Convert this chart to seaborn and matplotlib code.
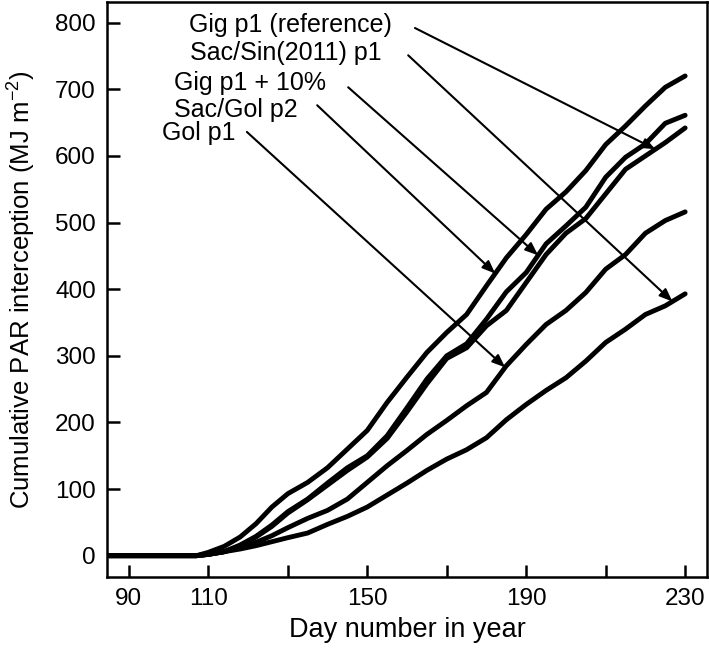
import numpy as np
import pandas as pd
import matplotlib
matplotlib.use("Agg")
import matplotlib.pyplot as plt
import seaborn as sns

# ---- data ----
days = [85, 107, 110, 114, 118, 122, 126, 130, 135, 140, 145, 150, 155, 160,
        165, 170, 175, 180, 185, 190, 195, 200, 205, 210, 215, 220, 225, 230]
sac_gol_p2 = [0, 0, 5, 14, 28, 48, 73, 93, 110, 132, 160, 188, 230, 268,
              305, 335, 362, 405, 447, 482, 520, 546, 578, 617, 645, 675, 703, 720]
gig_p1_10 = [0, 0, 2, 6, 16, 29, 46, 66, 85, 109, 132, 150, 180, 222,
             265, 300, 318, 355, 396, 425, 468, 495, 523, 568, 598, 618, 649, 661]
gig_p1_ref = [0, 0, 2, 6, 15, 28, 44, 64, 84, 106, 128, 148, 176, 216,
              258, 296, 312, 345, 368, 410, 452, 484, 506, 543, 580, 600, 620, 642]
gol_p1 = [0, 0, 2, 6, 12, 20, 30, 42, 56, 68, 85, 110, 135, 158,
          182, 203, 225, 245, 285, 317, 347, 368, 395, 430, 452, 484, 503, 516]
sac_sin_p1 = [0, 0, 2, 6, 10, 15, 21, 27, 34, 47, 59, 73, 91, 109,
              128, 145, 159, 177, 204, 227, 248, 267, 292, 320, 340, 362, 375, 393]

series_names = ["Gig p1 (reference)", "Sac/Sin(2011) p1", "Gig p1 + 10%",
                "Sac/Gol p2", "Gol p1"]
series_values = [gig_p1_ref, sac_sin_p1, gig_p1_10, sac_gol_p2, gol_p1]
# day on each curve where its label arrow points
arrow_days = [222.5, 226.8, 193.0, 182.2, 184.7]

x_ticks = [90, 110, 130, 150, 170, 190, 210, 230]
x_tick_labels = ["90", "110", "", "150", "", "190", "", "230"]
y_ticks = [0, 100, 200, 300, 400, 500, 600, 700, 800]

# ---- layout constants ----
label_pos = [(105.1, 796), (105.4, 754), (101.3, 709), (101.3, 669), (98.3, 634)]
arrow_start = [(162.0, 792), (160.3, 751), (145.2, 703), (137.4, 676), (119.7, 636)]

sns.set_theme(style="ticks")
plt.rcParams["font.family"] = ["Liberation Sans", "DejaVu Sans"]
plt.rcParams["mathtext.fontset"] = "custom"
plt.rcParams["mathtext.rm"] = "Liberation Sans"
plt.rcParams["mathtext.it"] = "Liberation Sans:italic"
plt.rcParams["axes.unicode_minus"] = True
plt.rcParams["text.color"] = "black"
plt.rcParams["axes.labelcolor"] = "black"
plt.rcParams["xtick.color"] = "black"
plt.rcParams["ytick.color"] = "black"

rows = []
for name, vals in zip(series_names, series_values):
    for d, v in zip(days, vals):
        rows.append({"day": d, "value": v, "series": name})
df = pd.DataFrame(rows)

fig = plt.figure(figsize=(7.09, 6.5), dpi=100)
ax = fig.add_axes([107 / 709, 1 - 577 / 650, 600 / 709, 575 / 650])

sns.lineplot(data=df, x="day", y="value", hue="series", units="series",
             estimator=None, sort=True, palette=["black"] * 5, legend=False,
             linewidth=3.5, ax=ax, zorder=3)

for name, vals, ad, lp, st in zip(series_names, series_values, arrow_days,
                                  label_pos, arrow_start):
    ax.text(lp[0], lp[1], name, ha="left", va="center", fontsize=18,
            color="black")
    tip = (ad, float(np.interp(ad, days, vals)))
    ax.annotate("", xy=tip, xytext=st,
                arrowprops=dict(arrowstyle="-|>,head_length=0.55,head_width=0.22",
                                color="black", lw=1.5, shrinkA=0, shrinkB=0,
                                mutation_scale=14),
                zorder=4)

ax.set_xlim(84.5, 235.5)
ax.set_ylim(-32, 831)
ax.set_xticks(x_ticks)
ax.set_xticklabels(x_tick_labels)
ax.set_yticks(y_ticks)
ax.tick_params(axis="both", direction="in", length=9, width=1.8,
               labelsize=17.5, colors="black", pad=8)
for sp in ax.spines.values():
    sp.set_visible(True)
    sp.set_linewidth(1.8)
    sp.set_color("black")

ax.set_xlabel("Day number in year", fontsize=19.5, labelpad=5, color="black")
ax.set_ylabel("Cumulative PAR interception (MJ m$^{-2}$)", fontsize=18.5,
              labelpad=12, color="black")

fig.savefig("out.png", dpi=100)
